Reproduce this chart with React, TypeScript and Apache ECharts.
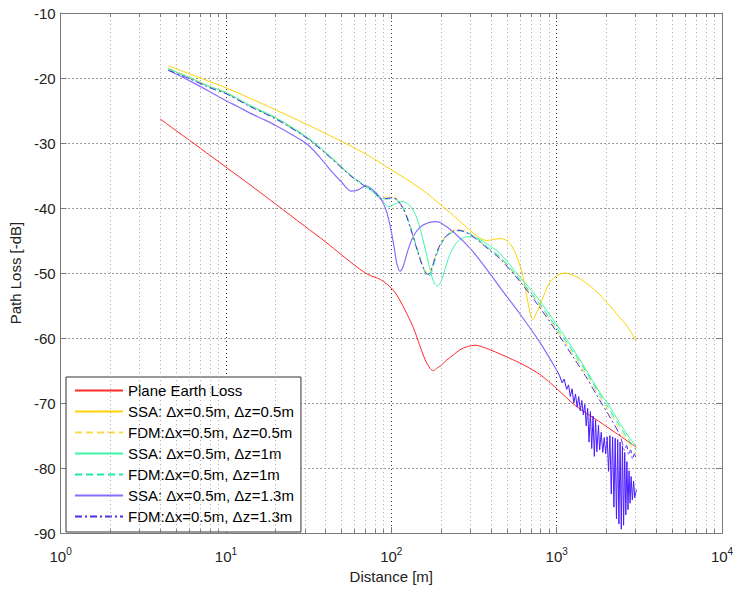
import React, { useEffect, useRef } from "react";
import * as echarts from "echarts";

const FONT = "'Liberation Sans', Arial, Helvetica, sans-serif";

// Series names (legend order)
const NAMES = [
  "Plane Earth Loss",
  "SSA: \u0394x=0.5m, \u0394z=0.5m",
  "FDM:\u0394x=0.5m, \u0394z=0.5m",
  "SSA: \u0394x=0.5m, \u0394z=1m",
  "FDM:\u0394x=0.5m, \u0394z=1m",
  "SSA: \u0394x=0.5m, \u0394z=1.3m",
  "FDM:\u0394x=0.5m, \u0394z=1.3m",
];

// Plane earth loss
const PE_D = [4, 5, 7, 10, 15, 20, 30, 40, 50, 60, 72, 86, 100, 108, 120, 136, 148, 160, 172, 180, 190, 200, 216, 240, 260, 290, 321, 360, 395, 460, 541, 650, 792, 1004, 1300, 1800, 2400, 3034];
const PE_V = [-26.3, -28.1, -30.8, -33.7, -37.0, -39.4, -42.8, -45.2, -47.2, -48.8, -50.2, -51.0, -52.3, -53.4, -55.5, -58.4, -61.0, -63.3, -64.7, -65.0, -64.6, -64.2, -63.4, -62.5, -61.8, -61.3, -61.1, -61.4, -61.8, -62.5, -63.3, -64.3, -65.6, -67.8, -70.4, -72.8, -75.0, -76.8];

// SSA, dz = 0.5 m
const SSA05_D = [4.47, 7, 10, 20, 47, 70, 98.6, 150, 210, 299, 340, 378, 420, 454, 500, 545, 590, 625, 665, 700, 720, 750, 792, 850, 907, 1000, 1117, 1250, 1430, 1700, 2028, 2400, 2640, 3034];
const SSA05_V = [-18.1, -20.0, -21.5, -24.9, -29.4, -31.7, -34.0, -37.0, -40.0, -43.4, -44.5, -45.0, -44.8, -44.7, -45.0, -46.2, -48.3, -50.5, -54.0, -56.8, -57.1, -56.3, -55.0, -53.0, -51.5, -50.4, -50.0, -50.3, -51.1, -52.6, -54.6, -56.8, -58.0, -60.4];

// FDM distances shared by dz = 0.5 m and dz = 1 m
const FDM_D = [4.47, 6, 8, 10, 14, 20, 31, 43, 57, 68, 78, 88, 96, 103, 110, 118, 124, 132, 140, 148, 156, 163, 168, 174, 182, 190, 200, 215, 235, 250, 275, 300, 350, 394, 454, 595, 755, 1004, 1250, 1500, 1815, 2028, 2400, 2700, 3034];
const FDM05_V = [-18.5, -19.9, -21.3, -22.2, -24.3, -26.2, -29.2, -32.2, -35.0, -36.4, -37.3, -38.4, -38.3, -38.2, -38.8, -40.0, -41.2, -43.3, -45.4, -47.4, -49.0, -49.9, -50.1, -49.5, -47.9, -46.5, -45.3, -44.2, -43.5, -43.3, -43.5, -44.0, -45.3, -46.4, -47.6, -51.0, -54.3, -58.8, -62.4, -65.5, -69.0, -70.9, -74.0, -76.0, -77.9];
const FDM10_V = [-18.6, -20.0, -21.4, -22.3, -24.3, -26.2, -29.2, -32.2, -35.0, -36.4, -37.3, -38.5, -38.6, -38.5, -39.0, -40.0, -41.2, -43.2, -45.4, -47.4, -49.2, -50.3, -50.5, -50.0, -48.4, -46.9, -45.6, -44.4, -43.7, -43.5, -43.6, -44.0, -45.2, -46.3, -47.5, -50.9, -54.1, -58.5, -62.0, -65.1, -68.6, -70.5, -73.5, -75.5, -77.3];

// SSA, dz = 1 m
const SSA10_D = [4.47, 6, 8, 10, 14, 20, 31, 43, 57, 68, 78, 88, 92, 97, 105, 116, 125, 132, 140, 150, 160, 170, 180, 190, 200, 212, 225, 245, 270, 299, 330, 394, 454, 595, 755, 1004, 1250, 1500, 1815, 2028, 2400, 2700, 3034];
const SSA10_V = [-18.5, -19.9, -21.3, -22.2, -24.2, -26.1, -29.1, -32.1, -35.0, -36.5, -37.6, -38.9, -39.4, -39.8, -39.4, -39.0, -39.3, -39.9, -41.0, -43.3, -46.2, -49.0, -51.3, -52.0, -51.3, -49.3, -47.3, -45.5, -44.6, -44.4, -44.6, -45.8, -47.0, -50.5, -53.6, -58.0, -61.6, -64.8, -68.3, -70.0, -73.0, -75.0, -76.7];

// SSA, dz = 1.3 m (smooth part, then the oscillating tail)
const SSA13_D = [4.5, 6, 8, 9.7, 12, 14, 17, 20, 25, 31, 37, 43, 50, 57, 63, 70, 78, 85, 92, 98, 104, 108, 113, 118, 125, 135, 150, 170, 185, 200, 240, 300, 380, 454, 600, 794, 1004];
const SSA13_V = [-18.8, -20.4, -22.1, -23.3, -24.5, -25.4, -26.4, -27.3, -28.7, -30.2, -32.2, -34.2, -36.0, -37.4, -37.2, -36.6, -37.3, -38.3, -40.0, -42.5, -46.0, -48.5, -49.7, -49.0, -46.8, -44.5, -42.9, -42.2, -42.1, -42.3, -43.8, -46.2, -49.5, -52.2, -56.3, -60.7, -65.0];
const SSA13_TAIL_D = [1004, 1042, 1080, 1110, 1150, 1180, 1210, 1240, 1270, 1300, 1330, 1360, 1390, 1420, 1450, 1480, 1510, 1540, 1570, 1600, 1630, 1660, 1690, 1720, 1750, 1790, 1820, 1860, 1900, 1940, 1980, 2020, 2060, 2100, 2140, 2180, 2220, 2260, 2300, 2340, 2380, 2420, 2460, 2500, 2540, 2580, 2620, 2660, 2700, 2740, 2780, 2820, 2870, 2920, 2970, 3034];
const SSA13_TAIL_V = [-65.0, -65.8, -66.9, -66.3, -67.9, -67.2, -69.0, -67.8, -70.0, -68.6, -70.6, -69.0, -71.2, -69.6, -71.8, -70.2, -73.5, -70.8, -76.0, -71.3, -77.0, -72.0, -78.2, -72.6, -77.5, -73.4, -77.2, -74.5, -77.6, -75.3, -77.8, -75.2, -80.5, -75.0, -84.0, -75.2, -86.0, -75.4, -87.8, -75.6, -88.6, -76.0, -89.4, -76.6, -88.8, -77.6, -87.2, -79.0, -86.4, -80.4, -85.4, -81.3, -84.9, -82.0, -84.6, -83.3];

// FDM, dz = 1.3 m
const FDM13_D = [4.47, 6, 8, 10, 14, 20, 31, 43, 57, 68, 78, 88, 96, 103, 110, 118, 124, 132, 140, 148, 156, 163, 168, 174, 182, 190, 200, 215, 235, 250, 275, 300, 350, 394, 454, 595, 755, 1004, 1250, 1500, 1815, 2028, 2400, 2500, 2580, 2650, 2730, 2800, 2880, 2950, 3034];
const FDM13_V = [-18.8, -20.1, -21.5, -22.4, -24.4, -26.3, -29.3, -32.3, -35.1, -36.5, -37.4, -38.6, -38.5, -38.4, -38.9, -40.1, -41.4, -43.5, -45.6, -47.6, -49.2, -50.1, -50.2, -49.6, -48.0, -46.6, -45.4, -44.3, -43.6, -43.4, -43.6, -44.1, -45.4, -46.5, -47.8, -51.2, -54.6, -59.1, -62.8, -65.9, -69.5, -71.5, -74.8, -76.2, -77.3, -76.5, -78.0, -77.2, -78.6, -77.8, -78.8];

// Axis ranges
const X_MIN = 1;
const X_MAX = 10000;
const Y_MIN = -90;
const Y_MAX = -10;
const Y_STEP = 10;
const DECADES = [1, 10, 100, 1000];
const MINOR_MULT = [2, 3, 4, 5, 6, 7, 8, 9];

const pairs = (d: number[], v: number[]) => d.map((x, i) => [x, v[i]]);

function line(name: string, d: number[], v: number[], color: string, width: number, type: any, z: number, smooth: number | boolean) {
  return {
    name,
    type: "line",
    data: pairs(d, v),
    symbol: "none",
    showSymbol: false,
    smooth,
    silent: true,
    z,
    lineStyle: { color, width, type },
    itemStyle: { color },
  };
}

export default function App() {
  const ref = useRef<HTMLDivElement>(null);

  useEffect(() => {
    if (!ref.current) return;
    const chart = echarts.init(ref.current, null, { renderer: "svg" });

    const minor: number[] = [];
    DECADES.forEach((dec) => MINOR_MULT.forEach((m) => minor.push(dec * m)));

    const markData: any[] = [];
    minor.forEach((m) => markData.push({ xAxis: m }));
    // inner minor ticks along the bottom and top edges
    minor.forEach((m) => {
      markData.push([
        { coord: [m, Y_MIN], lineStyle: { type: "solid", color: "#7a7a7a", width: 1 } },
        { coord: [m, Y_MIN + 0.6] },
      ]);
      markData.push([
        { coord: [m, Y_MAX], lineStyle: { type: "solid", color: "#7a7a7a", width: 1 } },
        { coord: [m, Y_MAX - 0.6] },
      ]);
    });

    const axisLine = { show: true, lineStyle: { color: "#7a7a7a", width: 1 } };
    const tick = { show: true, inside: true, length: 6, lineStyle: { color: "#7a7a7a" } };
    const gridLine = { show: true, lineStyle: { type: [1, 3], color: "#333", width: 1 } };

    chart.setOption({
      animation: false,
      backgroundColor: "#fff",
      textStyle: { fontFamily: FONT },
      grid: { left: 59, right: 15, top: 13, bottom: 52, containLabel: false },
      legend: {
        orient: "vertical",
        left: 66,
        top: 377,
        data: NAMES,
        itemWidth: 48,
        itemHeight: 14,
        itemGap: 6,
        padding: [6, 7, 8, 8],
        backgroundColor: "#fff",
        borderColor: "#333",
        borderWidth: 1,
        selectedMode: false,
        itemStyle: { opacity: 0 },
        textStyle: { fontSize: 15, color: "#000", fontFamily: FONT },
      },
      xAxis: [
        {
          type: "log",
          logBase: 10,
          min: X_MIN,
          max: X_MAX,
          position: "bottom",
          name: "Distance [m]",
          nameLocation: "middle",
          nameGap: 34,
          nameTextStyle: { fontSize: 15, color: "#222", fontFamily: FONT },
          axisLine,
          axisTick: tick,
          splitLine: gridLine,
          axisLabel: {
            margin: 13,
            formatter: (v: number) => `{b|10}{e|${Math.round(Math.log10(v))}}`,
            rich: {
              b: { fontSize: 15, color: "#222", fontFamily: FONT, lineHeight: 18, verticalAlign: "bottom" },
              e: { fontSize: 10, color: "#222", fontFamily: FONT, lineHeight: 10, verticalAlign: "top" },
            },
          },
        },
        {
          type: "log",
          logBase: 10,
          min: X_MIN,
          max: X_MAX,
          position: "top",
          axisLine,
          axisTick: tick,
          axisLabel: { show: false },
          splitLine: { show: false },
        },
      ],
      yAxis: [
        {
          type: "value",
          min: Y_MIN,
          max: Y_MAX,
          interval: Y_STEP,
          position: "left",
          name: "Path Loss [-dB]",
          nameLocation: "middle",
          nameGap: 37,
          nameTextStyle: { fontSize: 15, color: "#222", fontFamily: FONT },
          axisLine,
          axisTick: tick,
          splitLine: gridLine,
          axisLabel: { fontSize: 15, color: "#222", fontFamily: FONT, margin: 5 },
        },
        {
          type: "value",
          min: Y_MIN,
          max: Y_MAX,
          interval: Y_STEP,
          position: "right",
          axisLine,
          axisTick: tick,
          axisLabel: { show: false },
          splitLine: { show: false },
        },
      ],
      series: [
        {
          name: "minor-grid",
          type: "line",
          data: [[X_MIN, Y_MIN]],
          symbol: "none",
          showSymbol: false,
          silent: true,
          z: 1,
          lineStyle: { opacity: 0 },
          markLine: {
            silent: true,
            symbol: ["none", "none"],
            label: { show: false },
            emphasis: { disabled: true },
            lineStyle: { type: [1, 3], color: "#a8a8a8", width: 1 },
            data: markData,
          },
        },
        line(NAMES[0], PE_D, PE_V, "#ff2a2a", 1, "solid", 3, 0.3),
        line(NAMES[1], SSA05_D, SSA05_V, "#ffd200", 1, "solid", 3, 0.3),
        line(NAMES[2], FDM_D, FDM05_V, "#ffd84a", 1, [7, 4], 4, 0.3),
        line(NAMES[3], SSA10_D, SSA10_V, "#3cf7a4", 1, "solid", 3, 0.3),
        line(NAMES[4], FDM_D, FDM10_V, "#18eea0", 1, [7, 4], 4, 0.3),
        line(NAMES[5], SSA13_D, SSA13_V, "#8a6cff", 1.2, "solid", 3, 0.3),
        line(NAMES[5], SSA13_TAIL_D, SSA13_TAIL_V, "#4a1cff", 1, "solid", 3, false),
        line(NAMES[6], FDM13_D, FDM13_V, "#4b2ee8", 1, [7, 3, 2, 3], 5, 0.3),
      ],
    });

    return () => chart.dispose();
  }, []);

  return (
    <div
      ref={ref}
      style={{ position: "absolute", left: 0, top: 0, width: 737, height: 589, background: "#fff" }}
    />
  );
}
